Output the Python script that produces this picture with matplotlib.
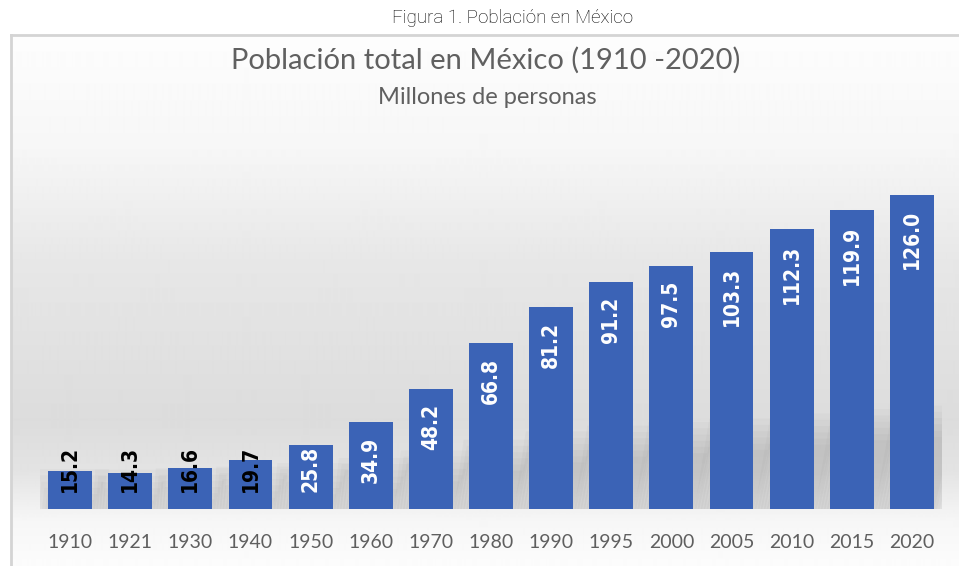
import numpy as np
import matplotlib
matplotlib.use('Agg')
import matplotlib.pyplot as plt
from matplotlib.patches import Polygon

# Data
years = ['1910', '1921', '1930', '1940', '1950', '1960', '1970', '1980',
         '1990', '1995', '2000', '2005', '2010', '2015', '2020']
population = [15.2, 14.3, 16.6, 19.7, 25.8, 34.9, 48.2, 66.8,
              81.2, 91.2, 97.5, 103.3, 112.3, 119.9, 126.0]

caption = 'Figura 1. Población en México'
title = 'Población total en México (1910 -2020)'
subtitle = 'Millones de personas'

W, H = 959, 566
fig = plt.figure(figsize=(W / 100, H / 100), dpi=100)
fig.patch.set_facecolor('white')

# Chart background with a soft vertical gradient
top_px = 35
left_px = 11
bg = fig.add_axes([left_px / W, 0, 1 - left_px / W, (H - top_px) / H])
stops_px = [35, 150, 260, 420, 470, 520, 566]
stops_gray = [253, 246, 231, 220, 227, 246, 252]
rows = np.arange(top_px, H)
grays = np.interp(rows, stops_px, stops_gray) / 255.0
grad = np.repeat(grays[:, None], 2, axis=1)
bg.imshow(grad, cmap='gray', vmin=0, vmax=1, aspect='auto',
          extent=[0, 1, 0, 1], interpolation='bilinear')
bg.set_xlim(0, 1)
bg.set_ylim(0, 1)
bg.axis('off')

# Frame lines (top and left)
fig.add_artist(plt.Line2D([left_px / W, 1], [1 - top_px / H, 1 - top_px / H],
                          color='#d4d4d4', lw=2))
fig.add_artist(plt.Line2D([left_px / W, left_px / W], [0, 1 - top_px / H],
                          color='#d4d4d4', lw=2))

# Main bar axes
ax = fig.add_axes([40 / W, 57 / H, 902 / W, 348.6 / H])
ax.set_facecolor('none')
x = np.arange(len(years))

# Blurred perspective shadow behind each bar
for i, v in enumerate(population):
    hs = 0.23 * v
    dx = 0.3 * v / 126.0
    for k in range(6):
        g = 0.05 * k
        poly = Polygon([(i - 0.365 - g, 0), (i + 0.365 + g, 0),
                        (i + 0.365 + dx + g, hs + 2.5 * k),
                        (i - 0.365 + dx - g, hs + 2.5 * k)],
                       closed=True, facecolor='#6a6a6a', edgecolor='none',
                       alpha=0.045, zorder=1)
        ax.add_patch(poly)

ax.bar(x, population, width=0.73, color='#3b63b6', zorder=3)

# Value labels
for i, v in enumerate(population):
    top = v - 6.0
    if top - 19 < 7:
        ypos, va = 7, 'bottom'
    else:
        ypos, va = top, 'top'
    color = 'white' if v > 22 else 'black'
    ax.text(i, ypos, f'{v:.1f}', rotation=90, ha='center', va=va,
            fontsize=15, fontweight='bold', fontstretch='condensed',
            color=color, family='DejaVu Sans', zorder=4)

ax.set_xlim(-0.5, len(years) - 0.5)
ax.set_ylim(0, 140)
ax.set_xticks(x)
ax.set_xticklabels(years, fontsize=14, color='#5f5f5f', family='Lato')
ax.tick_params(axis='x', length=0, pad=18)
ax.set_yticks([])
for s in ax.spines.values():
    s.set_visible(False)

# Titles
fig.text(486 / W, 1 - 60 / H, title, ha='center', va='center',
         fontsize=21, color='#606060', family='Lato')
fig.text(487 / W, 1 - 97 / H, subtitle, ha='center', va='center',
         fontsize=17, color='#606060', family='Lato')
fig.text(513 / W, 1 - 18 / H, caption, ha='center', va='center',
         fontsize=13.5, color='#000000', family='Roboto', fontweight='light')

plt.savefig('out.png', dpi=100)
